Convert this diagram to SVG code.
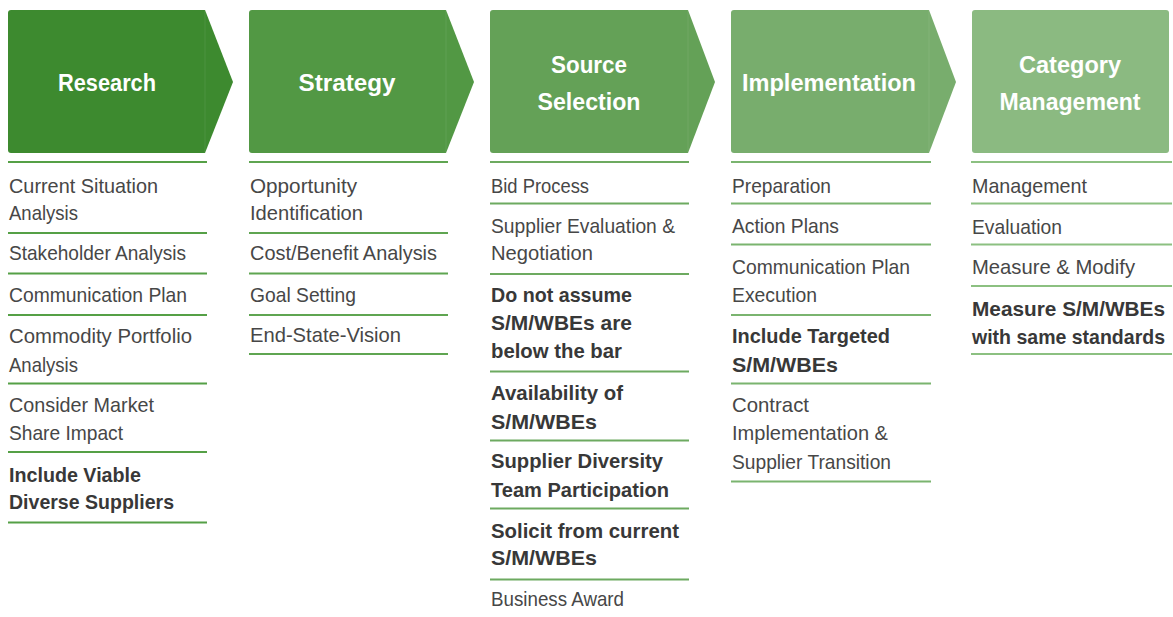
<svg xmlns="http://www.w3.org/2000/svg" width="1173" height="617" viewBox="0 0 1173 617">
<style>
.hd{font-family:"Liberation Sans",Arial,sans-serif;font-weight:bold;font-size:24px;fill:#ffffff;text-anchor:middle}
.t{font-family:"Liberation Sans",Arial,sans-serif;font-size:21px;fill:#474747}
.b{font-family:"Liberation Sans",Arial,sans-serif;font-size:21px;font-weight:bold;fill:#383838}
.fold{stroke:#ffffff;stroke-opacity:0.08;stroke-width:1}
.l1{stroke:#55a046;stroke-width:2}
.l2{stroke:#5fa551;stroke-width:2}
.l3{stroke:#6daa60;stroke-width:2}
.l4{stroke:#7ab46f;stroke-width:2}
.l5{stroke:#8cc081;stroke-width:2}
</style>
<rect width="1173" height="617" fill="#ffffff"/>

<g id="research">
<path d="M11,10 H205 L233,82 L205,153 H11 Q8,153 8,150 V13 Q8,10 11,10 Z" fill="#3d8a2f"/>
<line class="fold" x1="205" y1="10" x2="205" y2="153"/>
<text class="hd" x="107" y="91" textLength="98" lengthAdjust="spacingAndGlyphs">Research</text>
<g class="l1">
<line x1="8" y1="162" x2="207" y2="162"/><line x1="8" y1="233" x2="207" y2="233"/>
<line x1="8" y1="273.5" x2="207" y2="273.5"/><line x1="8" y1="315" x2="207" y2="315"/>
<line x1="8" y1="383.5" x2="207" y2="383.5"/><line x1="8" y1="452" x2="207" y2="452"/>
<line x1="8" y1="522.5" x2="207" y2="522.5"/>
</g>
<text class="t" x="9" y="192.5" textLength="149" lengthAdjust="spacingAndGlyphs">Current Situation</text>
<text class="t" x="9" y="219.5" textLength="69" lengthAdjust="spacingAndGlyphs">Analysis</text>
<text class="t" x="9" y="260" textLength="177" lengthAdjust="spacingAndGlyphs">Stakeholder Analysis</text>
<text class="t" x="9" y="301.5" textLength="178" lengthAdjust="spacingAndGlyphs">Communication Plan</text>
<text class="t" x="9" y="342.5" textLength="183" lengthAdjust="spacingAndGlyphs">Commodity Portfolio</text>
<text class="t" x="9" y="371.5" textLength="69" lengthAdjust="spacingAndGlyphs">Analysis</text>
<text class="t" x="9" y="411.5" textLength="145" lengthAdjust="spacingAndGlyphs">Consider Market</text>
<text class="t" x="9" y="440" textLength="114" lengthAdjust="spacingAndGlyphs">Share Impact</text>
<text class="b" x="9" y="481.5" textLength="132" lengthAdjust="spacingAndGlyphs">Include Viable</text>
<text class="b" x="9" y="508.5" textLength="165" lengthAdjust="spacingAndGlyphs">Diverse Suppliers</text>
</g>

<g id="strategy">
<path d="M252,10 H446 L474,82 L446,153 H252 Q249,153 249,150 V13 Q249,10 252,10 Z" fill="#529844"/>
<line class="fold" x1="446" y1="10" x2="446" y2="153"/>
<text class="hd" x="347" y="91" textLength="97" lengthAdjust="spacingAndGlyphs">Strategy</text>
<g class="l2">
<line x1="249" y1="162" x2="448" y2="162"/><line x1="249" y1="233" x2="448" y2="233"/>
<line x1="249" y1="273.5" x2="448" y2="273.5"/><line x1="249" y1="315" x2="448" y2="315"/>
<line x1="249" y1="354" x2="448" y2="354"/>
</g>
<text class="t" x="250" y="192.5" textLength="107" lengthAdjust="spacingAndGlyphs">Opportunity</text>
<text class="t" x="250" y="219.5" textLength="113" lengthAdjust="spacingAndGlyphs">Identification</text>
<text class="t" x="250" y="260" textLength="187" lengthAdjust="spacingAndGlyphs">Cost/Benefit Analysis</text>
<text class="t" x="250" y="301.5" textLength="106" lengthAdjust="spacingAndGlyphs">Goal Setting</text>
<text class="t" x="250" y="342" textLength="151" lengthAdjust="spacingAndGlyphs">End-State-Vision</text>
</g>

<g id="source-selection">
<path d="M493,10 H688 L715,82 L688,153 H493 Q490,153 490,150 V13 Q490,10 493,10 Z" fill="#64a157"/>
<line class="fold" x1="688" y1="10" x2="688" y2="153"/>
<text class="hd" x="589" y="72.5" textLength="76" lengthAdjust="spacingAndGlyphs">Source</text>
<text class="hd" x="589" y="110" textLength="103" lengthAdjust="spacingAndGlyphs">Selection</text>
<g class="l3">
<line x1="490" y1="162" x2="689" y2="162"/><line x1="490" y1="203.5" x2="689" y2="203.5"/>
<line x1="490" y1="274" x2="689" y2="274"/><line x1="490" y1="371.5" x2="689" y2="371.5"/>
<line x1="490" y1="440.5" x2="689" y2="440.5"/><line x1="490" y1="508.5" x2="689" y2="508.5"/>
<line x1="490" y1="579.5" x2="689" y2="579.5"/>
</g>
<text class="t" x="491" y="192.5" textLength="98" lengthAdjust="spacingAndGlyphs">Bid Process</text>
<text class="t" x="491" y="232.5" textLength="184" lengthAdjust="spacingAndGlyphs">Supplier Evaluation &amp;</text>
<text class="t" x="491" y="260" textLength="102" lengthAdjust="spacingAndGlyphs">Negotiation</text>
<text class="b" x="491" y="301.5" textLength="141" lengthAdjust="spacingAndGlyphs">Do not assume</text>
<text class="b" x="491" y="330" textLength="141" lengthAdjust="spacingAndGlyphs">S/M/WBEs are</text>
<text class="b" x="491" y="357.5" textLength="131" lengthAdjust="spacingAndGlyphs">below the bar</text>
<text class="b" x="491" y="399.5" textLength="132" lengthAdjust="spacingAndGlyphs">Availability of</text>
<text class="b" x="491" y="428.5" textLength="106" lengthAdjust="spacingAndGlyphs">S/M/WBEs</text>
<text class="b" x="491" y="467.5" textLength="172" lengthAdjust="spacingAndGlyphs">Supplier Diversity</text>
<text class="b" x="491" y="496.5" textLength="178" lengthAdjust="spacingAndGlyphs">Team Participation</text>
<text class="b" x="491" y="537.5" textLength="188" lengthAdjust="spacingAndGlyphs">Solicit from current</text>
<text class="b" x="491" y="565" textLength="106" lengthAdjust="spacingAndGlyphs">S/M/WBEs</text>
<text class="t" x="491" y="606" textLength="133" lengthAdjust="spacingAndGlyphs">Business Award</text>
</g>

<g id="implementation">
<path d="M734,10 H929 L956,82 L929,153 H734 Q731,153 731,150 V13 Q731,10 734,10 Z" fill="#78ad6d"/>
<line class="fold" x1="929" y1="10" x2="929" y2="153"/>
<text class="hd" x="829" y="91" textLength="174" lengthAdjust="spacingAndGlyphs">Implementation</text>
<g class="l4">
<line x1="731" y1="162" x2="931" y2="162"/><line x1="731" y1="203.5" x2="931" y2="203.5"/>
<line x1="731" y1="244.5" x2="931" y2="244.5"/><line x1="731" y1="315" x2="931" y2="315"/>
<line x1="731" y1="383.5" x2="931" y2="383.5"/><line x1="731" y1="481.5" x2="931" y2="481.5"/>
</g>
<text class="t" x="732" y="192.5" textLength="99" lengthAdjust="spacingAndGlyphs">Preparation</text>
<text class="t" x="732" y="232.5" textLength="107" lengthAdjust="spacingAndGlyphs">Action Plans</text>
<text class="t" x="732" y="274" textLength="178" lengthAdjust="spacingAndGlyphs">Communication Plan</text>
<text class="t" x="732" y="301.5" textLength="85" lengthAdjust="spacingAndGlyphs">Execution</text>
<text class="b" x="732" y="342.5" textLength="158" lengthAdjust="spacingAndGlyphs">Include Targeted</text>
<text class="b" x="732" y="371.5" textLength="106" lengthAdjust="spacingAndGlyphs">S/M/WBEs</text>
<text class="t" x="732" y="411.5" textLength="77" lengthAdjust="spacingAndGlyphs">Contract</text>
<text class="t" x="732" y="440" textLength="156" lengthAdjust="spacingAndGlyphs">Implementation &amp;</text>
<text class="t" x="732" y="468.5" textLength="159" lengthAdjust="spacingAndGlyphs">Supplier Transition</text>
</g>

<g id="category-management">
<rect x="972" y="10" width="197" height="143" rx="3" fill="#8bba81"/>
<text class="hd" x="1070" y="72.5" textLength="102" lengthAdjust="spacingAndGlyphs">Category</text>
<text class="hd" x="1070" y="110" textLength="141" lengthAdjust="spacingAndGlyphs">Management</text>
<g class="l5">
<line x1="971" y1="162" x2="1172" y2="162"/><line x1="971" y1="203.5" x2="1172" y2="203.5"/>
<line x1="971" y1="244.5" x2="1172" y2="244.5"/><line x1="971" y1="286" x2="1172" y2="286"/>
<line x1="971" y1="354" x2="1172" y2="354"/>
</g>
<text class="t" x="972" y="192.5" textLength="115" lengthAdjust="spacingAndGlyphs">Management</text>
<text class="t" x="972" y="233.5" textLength="90" lengthAdjust="spacingAndGlyphs">Evaluation</text>
<text class="t" x="972" y="274" textLength="163" lengthAdjust="spacingAndGlyphs">Measure &amp; Modify</text>
<text class="b" x="972" y="315.5" textLength="193" lengthAdjust="spacingAndGlyphs">Measure S/M/WBEs</text>
<text class="b" x="972" y="343.5" font-size="19" textLength="193" lengthAdjust="spacingAndGlyphs">with same standards</text>
</g>
</svg>
